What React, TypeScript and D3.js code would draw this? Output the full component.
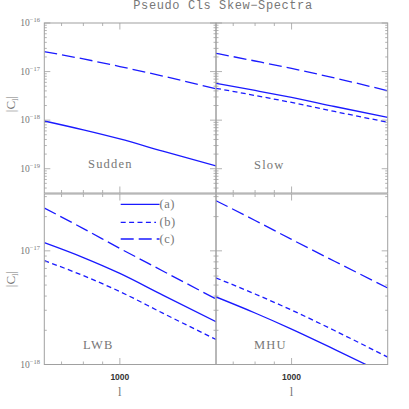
import React from 'react';
import * as d3 from 'd3';

const ells = [630, 800, 1000, 1300, 1800];
const suddenA = [9.6e-19, 6.3e-19, 4.1e-19, 2.3e-19, 1.14e-19];
const suddenC = [2.57e-17, 1.82e-17, 1.27e-17, 8.1e-18, 4.4e-18];
const slowA = [5.74e-18, 4.08e-18, 2.93e-18, 1.91e-18, 1.14e-18];
const slowB = [4.53e-18, 3.22e-18, 2.31e-18, 1.51e-18, 9.06e-19];
const slowC = [2.38e-17, 1.65e-17, 1.16e-17, 7.38e-18, 4.04e-18];
const lwbA = [1.18e-17, 8.73e-18, 6.33e-18, 4.08e-18, 2.38e-18];
const lwbB = [8.2e-18, 6.05e-18, 4.38e-18, 2.83e-18, 1.66e-18];
const lwbC = [2.38e-17, 1.57e-17, 1.05e-17, 6.65e-18, 3.77e-18];
const mhuA = [3.93e-18, 2.84e-18, 2.05e-18, 1.36e-18, 8.07e-19];
const mhuB = [5.78e-18, 4.17e-18, 3.01e-18, 1.99e-18, 1.16e-18];
const mhuC = [2.76e-17, 1.85e-17, 1.26e-17, 8.1e-18, 4.71e-18];
const panelNames = ['Sudden', 'Slow', 'LWB', 'MHU'];
const legendLabels = ['(a)', '(b)', '(c)'];
const xTickLabels = [1000];
const topYTickExps = [-16, -17, -18, -19];
const bottomYTickExps = [-17, -18];
const titleText = 'Pseudo Cls Skew\u2212Spectra';

const BLUE = '#1a1aff';
const GRAY = '#a0a0a0';
const TEXT = '#777';
const dashes: Record<string, string | undefined> = { a: undefined, b: '5,3.4', c: '13,5' };

const xDomain: [number, number] = [630, 1800];
const topDomain: [number, number] = [Math.pow(10, -19.5), 1e-16];
const botDomain: [number, number] = [1e-18, Math.pow(10, -16.5)];

const X0 = 44.3, XM = 216, X1 = 387.7;
const TY0 = 23, TY1 = 193, BY0 = 194, BY1 = 364.5;

function logTicks(dom: [number, number]) {
  const out: { v: number; major: boolean }[] = [];
  const lo = Math.floor(Math.log10(dom[0])) - 1;
  const hi = Math.ceil(Math.log10(dom[1])) + 1;
  for (let n = lo; n <= hi; n++) {
    for (let k = 1; k <= 9; k++) {
      const v = k * Math.pow(10, n);
      if (v >= dom[0] * 0.999 && v <= dom[1] * 1.001) out.push({ v, major: k === 1 });
    }
  }
  return out;
}

type Series = { vals: number[]; style: string };

function Panel({ x0, x1, y0, y1, yDom, series, name, nameX, nameY, id }: any) {
  const xs = d3.scaleLog().domain(xDomain).range([x0, x1]);
  const ys = d3.scaleLog().domain(yDom).range([y1, y0]);
  const line = d3
    .line<[number, number]>()
    .x((d) => xs(d[0]))
    .y((d) => ys(d[1]))
    .curve(d3.curveMonotoneX);
  const xt = logTicks(xDomain);
  const yt = logTicks(yDom);
  return (
    <g>
      <defs>
        <clipPath id={id}>
          <rect x={x0} y={y0} width={x1 - x0} height={y1 - y0} />
        </clipPath>
      </defs>
      <g clipPath={`url(#${id})`}>
        {(series as Series[]).map((s, i) => (
          <path
            key={i}
            d={line(ells.map((l, j) => [l, s.vals[j]]) as [number, number][]) || ''}
            fill="none"
            stroke={BLUE}
            strokeWidth={1.3}
            strokeDasharray={dashes[s.style]}
          />
        ))}
      </g>
      <rect x={x0} y={y0} width={x1 - x0} height={y1 - y0} fill="none" stroke={GRAY} strokeWidth={1} />
      {xt.map((t, i) => {
        const px = xs(t.v);
        const len = t.major ? 6.5 : 3;
        return (
          <g key={'x' + i}>
            <line x1={px} x2={px} y1={y1} y2={y1 - len} stroke={GRAY} strokeWidth={0.8} />
            <line x1={px} x2={px} y1={y0} y2={y0 + len} stroke={GRAY} strokeWidth={0.8} />
          </g>
        );
      })}
      {yt.map((t, i) => {
        const py = ys(t.v);
        const len = t.major ? 6 : 2.5;
        return (
          <g key={'y' + i}>
            <line x1={x0} x2={x0 + len} y1={py} y2={py} stroke={GRAY} strokeWidth={0.8} />
            <line x1={x1} x2={x1 - len} y1={py} y2={py} stroke={GRAY} strokeWidth={0.8} />
          </g>
        );
      })}
      <text
        x={nameX}
        y={nameY}
        fontFamily="Liberation Serif"
        fontSize={12.5}
        letterSpacing={1.2}
        fill={TEXT}
      >
        {name}
      </text>
    </g>
  );
}

export default function App() {
  const yTop = d3.scaleLog().domain(topDomain).range([TY1, TY0]);
  const yBot = d3.scaleLog().domain(botDomain).range([BY1, BY0]);
  const xL = d3.scaleLog().domain(xDomain).range([X0, XM]);
  const xR = d3.scaleLog().domain(xDomain).range([XM, X1]);
  const legY = [204.3, 222.3, 239];
  const legStyles = ['a', 'b', 'c'];
  return (
    <svg
      width={409}
      height={409}
      style={{ position: 'absolute', left: 0, top: 0, background: '#fff' }}
    >
      <rect width={409} height={409} fill="#fff" />
      <text
        x={223}
        y={9}
        textAnchor="middle"
        fontFamily="Liberation Mono"
        fontSize={12}
        letterSpacing={0.6}
        fill={TEXT}
      >
        {titleText}
      </text>
      <Panel id="c1" x0={X0} x1={XM} y0={TY0} y1={TY1} yDom={topDomain}
        series={[{ vals: suddenA, style: 'a' }, { vals: suddenC, style: 'c' }]}
        name={panelNames[0]} nameX={88} nameY={168} />
      <Panel id="c2" x0={XM} x1={X1} y0={TY0} y1={TY1} yDom={topDomain}
        series={[{ vals: slowA, style: 'a' }, { vals: slowB, style: 'b' }, { vals: slowC, style: 'c' }]}
        name={panelNames[1]} nameX={254} nameY={169} />
      <Panel id="c3" x0={X0} x1={XM} y0={BY0} y1={BY1} yDom={botDomain}
        series={[{ vals: lwbA, style: 'a' }, { vals: lwbB, style: 'b' }, { vals: lwbC, style: 'c' }]}
        name={panelNames[2]} nameX={83} nameY={349} />
      <Panel id="c4" x0={XM} x1={X1} y0={BY0} y1={BY1} yDom={botDomain}
        series={[{ vals: mhuA, style: 'a' }, { vals: mhuB, style: 'b' }, { vals: mhuC, style: 'c' }]}
        name={panelNames[3]} nameX={254} nameY={349} />

      {topYTickExps.map((e) => (
        <text key={'t' + e} x={40} y={yTop(Math.pow(10, e)) + 3} textAnchor="end"
          fontFamily="Liberation Serif" fontSize={9.5} fill={TEXT}>
          10<tspan dy={-4} fontSize={6.5}>{'\u2212' + -e}</tspan>
        </text>
      ))}
      {bottomYTickExps.map((e) => (
        <text key={'b' + e} x={40} y={yBot(Math.pow(10, e)) + 3} textAnchor="end"
          fontFamily="Liberation Serif" fontSize={9.5} fill={TEXT}>
          10<tspan dy={-4} fontSize={6.5}>{'\u2212' + -e}</tspan>
        </text>
      ))}

      {[xL, xR].map((xs, i) =>
        xTickLabels.map((v) => (
          <g key={'xl' + i + v}>
            <text x={xs(v)} y={380} textAnchor="middle" fontFamily="Liberation Sans"
              fontSize={8.5} fontWeight="bold" fill="#333">
              {v}
            </text>
            <text x={xs(v)} y={396} textAnchor="middle" fontFamily="Liberation Serif"
              fontSize={12.5} fill={TEXT}>
              l
            </text>
          </g>
        ))
      )}

      {[104, 279].map((cy, i) => (
        <text key={'yl' + i} transform={`translate(15,${cy}) rotate(-90)`} textAnchor="middle"
          fontFamily="Liberation Serif" fontSize={13} fill={TEXT}>
          |C<tspan dy={3} fontSize={9}>l</tspan><tspan dy={-3}>|</tspan>
        </text>
      ))}

      {legendLabels.map((lab, i) => (
        <g key={'lg' + i}>
          <line x1={120.7} x2={i === 1 ? 156 : 159.5} y1={legY[i]} y2={legY[i]} stroke={BLUE}
            strokeWidth={1.3} strokeDasharray={dashes[legStyles[i]]} />
          <text x={159.5} y={legY[i] + 4} fontFamily="Liberation Serif" fontSize={12.5}
            letterSpacing={0.5} fill={TEXT}>
            {lab}
          </text>
        </g>
      ))}
    </svg>
  );
}
